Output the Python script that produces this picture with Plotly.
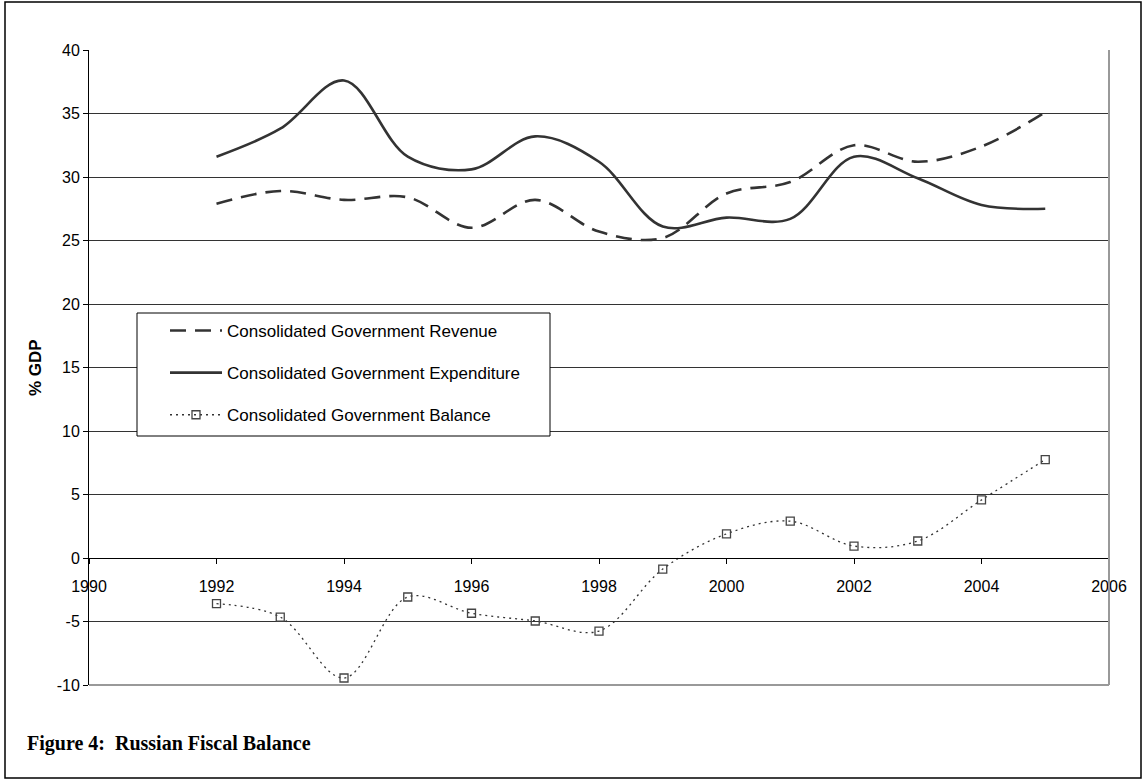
import plotly.graph_objects as go

years = [1992, 1993, 1994, 1995, 1996, 1997, 1998, 1999, 2000, 2001, 2002, 2003, 2004, 2005]
revenue = [27.9, 28.9, 28.2, 28.4, 26.0, 28.2, 25.7, 25.2, 28.7, 29.6, 32.5, 31.2, 32.4, 35.1]
expenditure = [31.6, 33.8, 37.6, 31.6, 30.6, 33.2, 31.2, 26.1, 26.8, 26.7, 31.6, 29.9, 27.8, 27.5]
balance = [-3.6, -4.65, -9.45, -3.07, -4.35, -4.96, -5.75, -0.87, 1.9, 2.9, 0.94, 1.34, 4.57, 7.75]

x_ticks = [1990, 1992, 1994, 1996, 1998, 2000, 2002, 2004, 2006]
y_ticks = [-10, -5, 0, 5, 10, 15, 20, 25, 30, 35, 40]
y_ticktext = [str(v) for v in y_ticks]  # plain hyphen minus as in the original

W, H = 1143, 780
L, R, T, B = 89, 1109, 50, 685


def px(x):
    return (x - L) / (R - L)


def py(y):
    return (B - y) / (B - T)


LINE = "#333333"
fig = go.Figure()
fig.add_trace(go.Scatter(
    x=years, y=revenue, mode="lines", name="Consolidated Government Revenue",
    line=dict(color=LINE, width=2.6, dash="16px,9px", shape="spline"),
    legendgroup="a"))
fig.add_trace(go.Scatter(
    x=years, y=expenditure, mode="lines", name="Consolidated Government Expenditure",
    line=dict(color=LINE, width=2.6, shape="spline"),
    legendgroup="b"))
fig.add_trace(go.Scatter(
    x=years, y=balance, mode="lines+markers", name="Consolidated Government Balance",
    line=dict(color=LINE, width=1.3, dash="2px,4px", shape="spline"),
    marker=dict(symbol="square-open", size=8, color="#444444", line=dict(width=1.3)),
    legendgroup="c"))

fig.update_layout(
    width=W, height=H,
    margin=dict(l=L, r=W - R, t=T, b=H - B),
    paper_bgcolor="white", plot_bgcolor="white",
    font=dict(family="Liberation Sans, Arial, sans-serif", color="black", size=16),
    showlegend=True,
    legend=dict(
        x=px(137), y=py(313), xanchor="left", yanchor="top",
        bgcolor="rgba(0,0,0,0)", borderwidth=0,
        font=dict(size=17), tracegroupgap=17, indentation=28, itemwidth=52,
    ),
    xaxis=dict(
        range=[1990, 2006], tickvals=x_ticks, ticktext=[str(v) for v in x_ticks],
        anchor="free", position=py(558), showline=True, linecolor="black", linewidth=1,
        ticks="outside", ticklen=5, tickcolor="black", showgrid=False, zeroline=False,
        tickfont=dict(size=16), ticklabelstandoff=9,
    ),
    yaxis=dict(
        range=[-10, 40], tickvals=y_ticks, ticktext=y_ticktext, showline=True,
        linecolor="black", linewidth=1,
        ticks="outside", ticklen=5, tickcolor="black", showgrid=True, gridcolor="#333333",
        gridwidth=1, zeroline=False, tickfont=dict(size=16),
    ),
    shapes=[
        dict(type="line", xref="paper", yref="paper", x0=1, x1=1, y0=0, y1=1,
             line=dict(color="#999999", width=2)),
        dict(type="line", xref="paper", yref="paper", x0=0, x1=1, y0=0, y1=0,
             line=dict(color="#999999", width=2)),
        dict(type="rect", xref="paper", yref="paper", x0=px(5), x1=px(1141),
             y0=py(778), y1=py(2), line=dict(color="black", width=1.5)),
        dict(type="rect", xref="paper", yref="paper", x0=px(137), x1=px(550),
             y0=py(436), y1=py(313), line=dict(color="black", width=1),
             fillcolor="white", layer="above"),
    ],
    annotations=[
        dict(text="<b>% GDP</b>", xref="paper", yref="paper", x=px(35), y=py(368),
             xanchor="center", yanchor="middle", textangle=-90, showarrow=False,
             font=dict(size=17, color="black")),
        dict(text="<b>Figure 4:  Russian Fiscal Balance</b>", xref="paper", yref="paper",
             x=px(25), y=py(743), xanchor="left", yanchor="middle", showarrow=False,
             font=dict(family="Liberation Serif, Times New Roman, serif", size=20, color="black")),
    ],
)

fig.write_html("out.html")
